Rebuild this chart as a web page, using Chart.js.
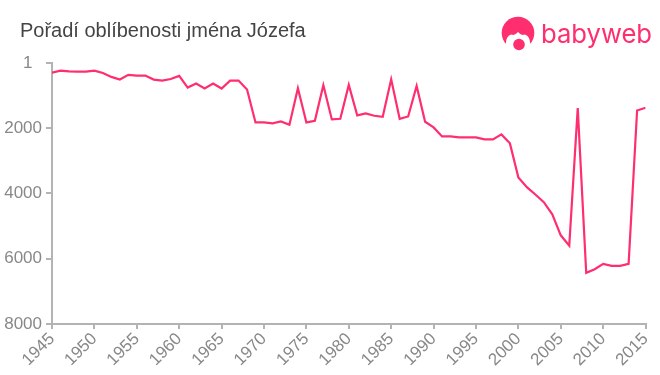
<!DOCTYPE html>
<html><head><meta charset="utf-8">
<style>
html,body{margin:0;padding:0;background:#fff;width:660px;height:375px;overflow:hidden;position:relative;font-family:"Liberation Sans",Arial,sans-serif}
#title{position:absolute;left:20px;top:19px;font-size:20px;line-height:22px;color:#444}
#wrap{position:absolute;left:0;top:0;width:660px;height:375px}
#logo{position:absolute;left:0;top:0}
</style>
<script src="https://cdn.jsdelivr.net/npm/chart.js@4"></script>
</head><body>
<div id="wrap"><canvas id="c" width="660" height="375"></canvas></div>
<div id="title">Pořadí oblíbenosti jména Józefa</div>
<svg id="logo" width="660" height="60">
<circle cx="518" cy="33" r="16.3" fill="#ff2e6e"/>
<path d="M506 46 Q505 37 511 34.5 Q515 36 518 32 Q521 36 525 34.5 Q531 37 530 46 L530 52 L506 52 Z" fill="#fff"/>
<circle cx="519" cy="44.5" r="5.8" fill="#ff2e6e"/>
<text x="541" y="42.5" font-family="Inter, Lato, sans-serif" font-size="26" fill="#ff2e6e" textLength="111" lengthAdjust="spacingAndGlyphs">babyweb</text>
</svg>
<script>
const years = [1945,1946,1947,1948,1949,1950,1951,1952,1953,1954,1955,1956,1957,1958,1959,1960,1961,1962,1963,1964,1965,1966,1967,1968,1969,1970,1971,1972,1973,1974,1975,1976,1977,1978,1979,1980,1981,1982,1983,1984,1985,1986,1987,1988,1989,1990,1991,1992,1993,1994,1995,1996,1997,1998,1999,2000,2001,2002,2003,2004,2005,2006,2007,2008,2009,2010,2011,2012,2013,2014,2015];
const ranks = [296,235,255,265,265,235,305,427,509,366,387,387,509,540,490,397,753,631,784,631,784,540,540,814,1822,1822,1853,1792,1893,774,1822,1771,682,1730,1710,672,1608,1547,1618,1649,499,1710,1639,702,1802,1975,2250,2250,2280,2280,2280,2342,2342,2190,2464,3511,3807,4030,4265,4641,5282,5597,1383,6432,6321,6158,6219,6219,6158,1456,1374];
const yTicks = [1,2000,4000,6000,8000];
const axisColor = '#b3b3b3', tickColor = '#888888', lineColor = '#ff2e6e';
new Chart(document.getElementById('c'), {
  type: 'line',
  data: { datasets: [{ data: years.map((y,i)=>({x:y,y:ranks[i]})), borderColor: lineColor, borderWidth: 2.2, pointRadius: 0, tension: 0, fill: false }] },
  options: {
    responsive: false, animation: false,
    layout: { padding: { top: 63, right: 12, left: 0, bottom: 0 } },
    plugins: { legend: { display: false }, tooltip: { enabled: false }, title: { display: false } },
    scales: {
      x: { type: 'linear', min: 1945, max: 2015,
        afterFit(s){ s.height = 51; },
        grid: { display: true, drawOnChartArea: false, drawTicks: true, tickLength: 5, color: axisColor, lineWidth: 2 },
        border: { color: axisColor, width: 2 },
        ticks: { stepSize: 5, autoSkip: false, maxRotation: 45, minRotation: 45, color: tickColor, padding: 0,
          font: { family: '"Liberation Sans", Arial, sans-serif', size: 17 }, callback: v => String(v) } },
      y: { type: 'linear', reverse: true, min: 1, max: 8000,
        afterFit(s){ s.width = 52; },
        afterBuildTicks(s){ s.ticks = yTicks.map(v=>({value:v})); },
        grid: { display: true, drawOnChartArea: false, drawTicks: true, tickLength: 6, color: axisColor, lineWidth: 2 },
        border: { color: axisColor, width: 2 },
        ticks: { color: tickColor, padding: 4, font: { family: '"Liberation Sans", Arial, sans-serif', size: 17 }, callback: v => v === 1 ? '1\u00a0\u00a0' : String(v) } }
    }
  }
});
</script>
</body></html>
